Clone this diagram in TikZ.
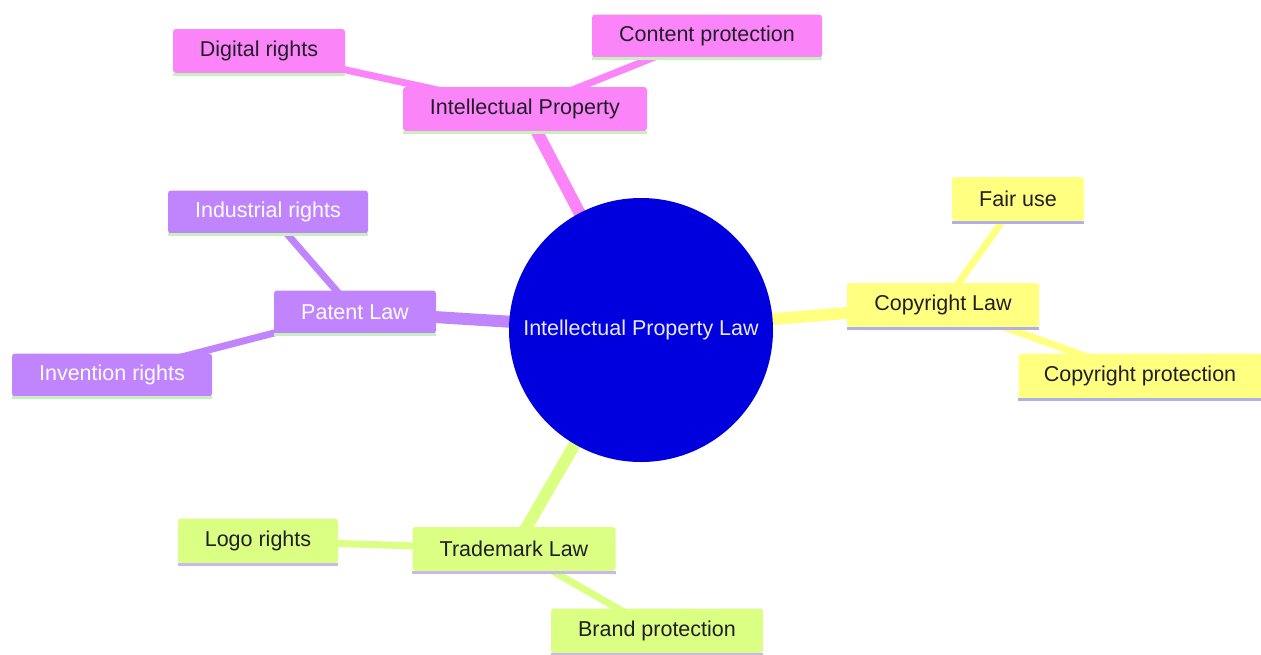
\documentclass[tikz,border=0pt]{standalone}
\usepackage{fontspec}
\setmainfont{Liberation Sans}
\usetikzlibrary{backgrounds}
\definecolor{pinkc}{RGB}{250,132,248}
\definecolor{purplec}{RGB}{192,132,252}
\definecolor{yellowc}{RGB}{255,255,128}
\definecolor{greenc}{RGB}{218,255,130}
\definecolor{rootc}{RGB}{0,0,222}
\definecolor{roottext}{RGB}{232,232,255}
\definecolor{darktext}{RGB}{34,30,40}
\definecolor{lgreenline}{RGB}{200,240,190}
\definecolor{lavline}{RGB}{176,176,232}
\definecolor{lavline2}{RGB}{200,184,236}
\tikzset{
  box/.style={rectangle, rounded corners=3pt, inner sep=0pt,
    font=\fontsize{21.5}{26}\selectfont, text=darktext},
  pinkbox/.style={box, fill=pinkc},
  purplebox/.style={box, fill=purplec, text=white},
  yellowbox/.style={box, fill=yellowc},
  greenbox/.style={box, fill=greenc},
  mainedge/.style={line width=12pt},
  subedge/.style={line width=7pt},
  uline/.style={line width=3pt},
}
\begin{document}
\begin{tikzpicture}[x=1pt,y=-1pt]
\useasboundingbox (0,0) rectangle (1261,654);
% root
\node[circle, fill=rootc, minimum size=264pt, inner sep=0pt, text=roottext,
  font=\fontsize{21.5}{26}\selectfont] (root) at (641,330) {Intellectual Property Law};
% pink section
\node[pinkbox, minimum width=244pt, minimum height=44pt] (ip) at (525,109) {Intellectual Property};
\node[pinkbox, minimum width=172pt, minimum height=44pt] (dr) at (259,51) {Digital rights};
\node[pinkbox, minimum width=230pt, minimum height=43pt] (cp) at (707,36) {Content protection};
% purple section
\node[purplebox, minimum width=162pt, minimum height=43pt] (pl) at (355,312) {Patent Law};
\node[purplebox, minimum width=200pt, minimum height=43pt] (ir) at (268,212) {Industrial rights};
\node[purplebox, minimum width=200pt, minimum height=43pt] (inv) at (112,375) {Invention rights};
% yellow section
\node[yellowbox, minimum width=192pt, minimum height=44pt] (cl) at (943,305) {Copyright Law};
\node[yellowbox, minimum width=132pt, minimum height=44pt] (fu) at (1018,199) {Fair use};
\node[yellowbox, minimum width=243pt, minimum height=45pt] (cpr) at (1140,376) {Copyright protection};
% green section
\node[greenbox, minimum width=203pt, minimum height=44pt] (tm) at (514,549) {Trademark Law};
\node[greenbox, minimum width=160pt, minimum height=45pt] (lr) at (258,541) {Logo rights};
\node[greenbox, minimum width=212pt, minimum height=45pt] (bp) at (657,631) {Brand protection};
% underlines
\foreach \n in {ip,dr,cp} \draw[uline, lgreenline] ([yshift=-1pt]\n.south west) -- ([yshift=-1pt]\n.south east);
\foreach \n in {pl,ir,inv} \draw[uline, lgreenline] ([yshift=-1pt]\n.south west) -- ([yshift=-1pt]\n.south east);
\foreach \n in {cl,fu,cpr} \draw[uline, lavline] ([yshift=-1pt]\n.south west) -- ([yshift=-1pt]\n.south east);
\foreach \n in {tm,lr,bp} \draw[uline, lavline2] ([yshift=-1pt]\n.south west) -- ([yshift=-1pt]\n.south east);
% edges
\begin{scope}[on background layer]
\draw[mainedge, pinkc] (root.center) -- (ip.center);
\draw[subedge, pinkc] (ip.center) -- (dr.center);
\draw[subedge, pinkc] (ip.center) -- (cp.center);
\draw[mainedge, purplec] (root.center) -- (pl.center);
\draw[subedge, purplec] (pl.center) -- (ir.center);
\draw[subedge, purplec] (pl.center) -- (inv.center);
\draw[mainedge, yellowc] (root.center) -- (cl.center);
\draw[subedge, yellowc] (cl.center) -- (fu.center);
\draw[subedge, yellowc] (cl.center) -- (cpr.center);
\draw[mainedge, greenc] (root.center) -- (tm.center);
\draw[subedge, greenc] (tm.center) -- (lr.center);
\draw[subedge, greenc] (tm.center) -- (bp.center);
\end{scope}
\end{tikzpicture}
\end{document}
